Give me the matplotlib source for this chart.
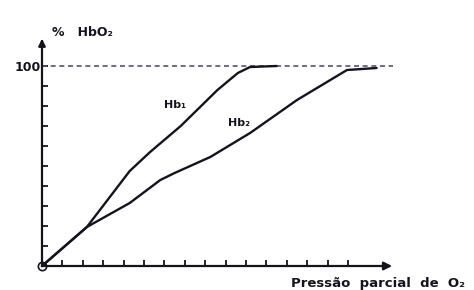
import matplotlib.pyplot as plt

# ===== 資料 =====
hb1_x = [0, 2.2, 4.3, 5.3, 6.8, 8.6, 9.6, 10.2, 11.5]
hb1_y = [0, 19.5, 47.5, 57, 70, 88, 96.5, 99.5, 100]
hb2_x = [0, 2.2, 4.3, 5.8, 6.5, 8.25, 10.2, 12.5, 14.95, 16.4]
hb2_y = [0, 19.5, 31.5, 43, 46.5, 54.5, 66.5, 83, 98, 99]
x_ticks = list(range(1, 16))
y_ticks = list(range(0, 101, 10))
y_labels = [''] * 10 + ['100']
sat_level = 100

INK = '#141420'

fig = plt.figure(figsize=(4.74, 2.9), dpi=100)
ax = fig.add_axes([42 / 474, 24 / 290, 367.2 / 474, 240 / 290])
ax.set_xlim(0, 18)
ax.set_ylim(0, 120)

# 飽和虛線
ax.plot([0, 17.2], [sat_level, sat_level], ls=(0, (3, 2.2)), color='#5b4f7e', lw=1.2)

ax.plot(hb1_x, hb1_y, color=INK, lw=1.7, solid_capstyle='round', solid_joinstyle='round')
ax.plot(hb2_x, hb2_y, color=INK, lw=1.7, solid_capstyle='round', solid_joinstyle='round')

# 座標軸
for s in ['top', 'right']:
    ax.spines[s].set_visible(False)
ax.spines['bottom'].set_bounds(0, 16.8)
ax.spines['left'].set_bounds(0, 112)
for s in ['bottom', 'left']:
    ax.spines[s].set_color(INK)
    ax.spines[s].set_linewidth(1.6)
ax.annotate('', xy=(17.3, 0), xytext=(16.5, 0),
            arrowprops=dict(arrowstyle='-|>', color=INK, lw=1.6, mutation_scale=12),
            annotation_clip=False)
ax.annotate('', xy=(0, 115), xytext=(0, 110),
            arrowprops=dict(arrowstyle='-|>', color=INK, lw=1.6, mutation_scale=10),
            annotation_clip=False)
ax.plot([0], [0], 'o', mfc='none', mec=INK, ms=6, mew=1.2, clip_on=False)

ax.set_xticks(x_ticks)
ax.set_xticklabels([])
ax.set_yticks(y_ticks)
ax.set_yticklabels(y_labels, fontsize=9, fontweight='bold', color=INK)
ax.tick_params(direction='in', length=4, width=1.3, color=INK, pad=1)

ax.text(0.5, 117, '%   HbO₂', fontsize=9, fontweight='bold', color=INK, va='center')
ax.text(6.0, 79, 'Hb₁', fontsize=8, fontweight='bold', color=INK)
ax.text(9.1, 70, 'Hb₂', fontsize=8, fontweight='bold', color=INK)
ax.text(12.2, -9, 'Pressão  parcial  de  O₂', fontsize=9.5, fontweight='bold',
        color=INK, va='center')

fig.savefig('out.png', dpi=100)
